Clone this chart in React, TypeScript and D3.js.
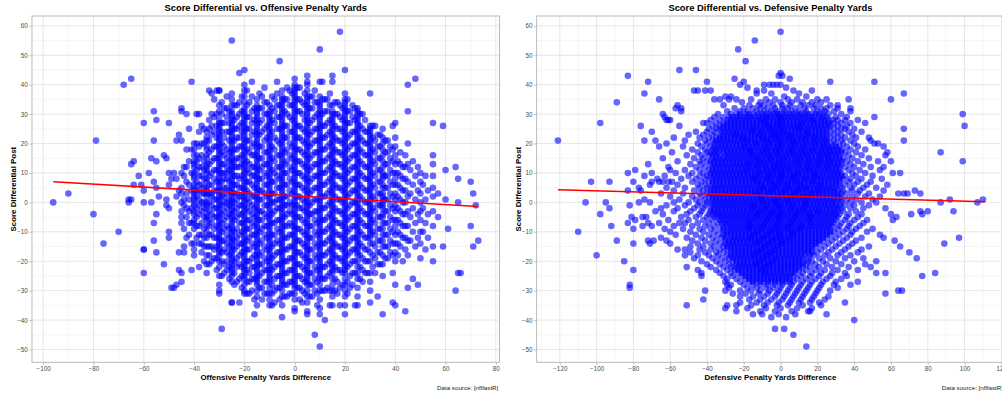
import React, { useRef, useEffect } from 'react';
import * as d3 from 'd3';

// offensive panel: [penalty yards difference, score differentials at that x]
const offensiveColumns: [number, number[]][] = [
  [-96, [0]], [-90, [3]], [-80, [-4]], [-79, [21]], [-76, [-14]], [-70, [-10]], [-68, [40]],
  [-66, [0, 1]], [-65, [42, 13, 1]], [-64, [14, 6]], [-62, [9]], [-61, [6]],
  [-60, [27, 4, 0, -16, -16, -24]], [-58, [10]], [-57, [15, 0]], [-56, [31, 21, 7, -7, -13]],
  [-55, [28, 14, 5, -4, -17]], [-54, [2]], [-52, [16, -21]], [-51, [15, 1, -1]],
  [-50, [27, 10, 6, -2, -10, -12]], [-49, [8, -29]], [-48, [10, -29]], [-47, [21, 8, 2, -28]],
  [-46, [23, 4, -17, -23]], [-45, [32, 31, 21, 10, 5, 3, 0, -3, -5, -7, -24, -27]],
  [-44, [1, -15, -17]], [-43, [30, 12, 7, -2]], [-42, [25, 6, -7]], [-41, [41, 18, -7, -23]],
  [-40, [20, 18, 16, 14, 13, 12, 10, 9, 8, 6, 5, 4, 3, 2, 1, 0, -1, -3, -4, -6, -7, -9, -14, -16, -18]],
  [-39, [30, 20, 11, 7, 2, -2, -5]], [-38, [30, 24, 15, 9, 4, -1, -8, -14, -22]],
  [-37, [20, 12, 6, 0, -3, -11, -14, -17]], [-36, [25, 14, 8, 3, -5, -15, -20]],
  [-35, [24, 22, 21, 19, 18, 16, 15, 13, 12, 11, 10, 8, 7, 5, 4, 3, 2, 0, -1, -2, -4, -5, -6, -8, -10, -12, -15, -18, -21, -24]],
  [-34, [38, 25, 17, 9, 3, -3, -11, -21]], [-33, [37, 23, 14, 6, -1, -7, -20]],
  [-32, [35, 29, 19, 11, 4, -2, -9, -16]], [-31, [38, 26, 15, 7, 1, -5, -12, -19]],
  [-30, [38, 38, 33, 31, 28, 27, 26, 25, 24, 23, 22, 21, 20, 19, 18, 17, 16, 15, 14, 13, 12, 11, 10, 9, 8, 7, 6, 5, 4, 3, 2, 1, 0, -1, -2, -3, -4, -5, -6, -7, -8, -9, -10, -11, -12, -13, -14, -15, -16, -17, -18, -20, -22, -25, -28, -30, -31]],
  [-29, [34, 27, 20, 13, 7, 2, -4, -10, -17, -25, -43]], [-28, [32, 22, 16, 10, 5, 0, -6, -13, -21]],
  [-27, [36, 29, 18, 12, 8, 3, -2, -8, -14, -20]], [-26, [31, 24, 17, 11, 4, -1, -9, -15, -22]],
  [-25, [55, 37, 35, 33, 31, 30, 29, 28, 27, 26, 25, 24, 23, 22, 21, 20, 19, 18, 17, 16, 15, 14, 13, 12, 11, 10, 9, 8, 7, 6, 5, 4, 3, 2, 1, 0, -1, -2, -3, -4, -5, -6, -7, -8, -9, -10, -11, -12, -13, -14, -15, -16, -17, -18, -19, -20, -21, -22, -23, -24, -25, -27, -34, -34]],
  [-24, [28, 21, 14, 9, 3, -3, -10, -16, -24]], [-23, [33, 25, 18, 12, 6, 1, -5, -12, -19, -27]],
  [-22, [44, 30, 22, 15, 8, 2, -4, -11, -18, -34]], [-21, [36, 27, 19, 13, 5, -1, -7, -14, -22]],
  [-20, [45, 40, 38, 36, 34, 32, 31, 30, 29, 28, 27, 26, 25, 24, 23, 22, 21, 20, 19, 18, 17, 16, 15, 14, 13, 12, 11, 10, 9, 8, 7, 6, 5, 4, 3, 2, 1, 0, -1, -2, -3, -4, -5, -6, -7, -8, -9, -10, -11, -12, -13, -14, -15, -16, -17, -18, -19, -20, -21, -22, -23, -24, -25, -26, -28, -30, -31]],
  [-19, [38, 29, 21, 14, 7, 1, -6, -13, -20, -27]], [-18, [34, 25, 17, 10, 3, -3, -9, -16, -24, -31]],
  [-17, [41, 31, 23, 16, 9, 2, -4, -11, -19, -26]], [-16, [28, 20, 12, 5, -2, -8, -15, -22, -38]],
  [-15, [35, 33, 32, 31, 30, 29, 28, 27, 26, 25, 24, 23, 22, 21, 20, 19, 18, 17, 16, 15, 14, 13, 12, 11, 10, 9, 8, 7, 6, 5, 4, 3, 2, 1, 0, -1, -2, -3, -4, -5, -6, -7, -8, -9, -10, -11, -12, -13, -14, -15, -16, -17, -18, -19, -20, -21, -22, -23, -24, -25, -26, -27, -28, -30, -32, -35]],
  [-14, [37, 27, 19, 11, 4, -3, -10, -18, -25]], [-13, [32, 24, 15, 8, 1, -6, -13, -21, -29]],
  [-12, [39, 30, 21, 13, 6, -1, -8, -15, -23, -31]], [-11, [34, 26, 17, 9, 2, -5, -12, -20, -27]],
  [-10, [33, 31, 30, 29, 28, 27, 26, 25, 24, 23, 22, 21, 20, 19, 18, 17, 16, 15, 14, 13, 12, 11, 10, 9, 8, 7, 6, 5, 4, 3, 2, 1, 0, -1, -2, -3, -4, -5, -6, -7, -8, -9, -10, -11, -12, -13, -14, -15, -16, -17, -18, -19, -20, -21, -22, -23, -24, -25, -26, -27, -29, -31, -33, -35]],
  [-9, [36, 28, 19, 11, 3, -4, -11, -19, -28, -35]], [-8, [31, 22, 14, 7, 0, -7, -14, -22, -30]],
  [-7, [41, 33, 25, 16, 9, 1, -6, -13, -21, -29]], [-6, [48, 29, 20, 12, 5, -2, -10, -17, -25, -33]],
  [-5, [38, 36, 35, 34, 33, 32, 31, 30, 29, 28, 27, 26, 25, 24, 23, 22, 21, 20, 19, 18, 17, 16, 15, 14, 13, 12, 11, 10, 9, 8, 7, 6, 5, 4, 3, 2, 1, 0, -1, -2, -3, -4, -5, -6, -7, -8, -9, -10, -11, -12, -13, -14, -15, -16, -17, -18, -19, -20, -21, -22, -23, -24, -25, -26, -27, -28, -30, -32, -35, -39]],
  [-4, [35, 26, 17, 10, 2, -5, -12, -20, -28]], [-3, [39, 30, 22, 14, 6, -1, -8, -16, -24, -32]],
  [-2, [33, 24, 16, 8, 0, -7, -15, -23, -31]], [-1, [37, 28, 19, 11, 3, -4, -11, -19, -27]],
  [0, [42, 40, 39, 38, 37, 36, 35, 34, 33, 32, 31, 30, 29, 28, 27, 26, 25, 24, 23, 22, 21, 20, 19, 18, 17, 16, 15, 14, 13, 12, 11, 10, 9, 8, 7, 6, 5, 4, 3, 2, 1, 0, -1, -2, -3, -4, -5, -6, -7, -8, -9, -10, -11, -12, -13, -14, -15, -16, -17, -18, -19, -20, -21, -22, -23, -24, -25, -26, -27, -28, -29, -31, -33, -36, -37]],
  [1, [35, 26, 18, 10, 2, -5, -13, -21, -29]], [2, [39, 31, 22, 14, 6, -2, -9, -17, -25, -33]],
  [3, [34, 25, 17, 9, 1, -6, -14, -22, -30]], [4, [37, 28, 20, 12, 4, -3, -11, -19, -27]],
  [5, [43, 41, 40, 38, 36, 35, 34, 33, 32, 31, 30, 29, 28, 27, 26, 25, 24, 23, 22, 21, 20, 19, 18, 17, 16, 15, 14, 13, 12, 11, 10, 9, 8, 7, 6, 5, 4, 3, 2, 1, 0, -1, -2, -3, -4, -5, -6, -7, -8, -9, -10, -11, -12, -13, -14, -15, -16, -17, -18, -19, -20, -21, -22, -23, -24, -25, -26, -27, -28, -30, -32, -34, -37, -38]],
  [6, [36, 27, 19, 11, 3, -4, -12, -20, -28]], [7, [32, 24, 16, 8, 0, -8, -16, -24, -32]],
  [8, [38, 29, 21, 13, 5, -3, -10, -18, -26, -45]], [9, [34, 25, 17, 9, 1, -7, -15, -23, -31]],
  [10, [52, 41, 36, 34, 33, 32, 31, 30, 29, 28, 27, 26, 25, 24, 23, 22, 21, 20, 19, 18, 17, 16, 15, 14, 13, 12, 11, 10, 9, 8, 7, 6, 5, 4, 3, 2, 1, 0, -1, -2, -3, -4, -5, -6, -7, -8, -9, -10, -11, -12, -13, -14, -15, -16, -17, -18, -19, -20, -21, -22, -23, -24, -25, -26, -28, -30, -33, -36, -38, -49]],
  [11, [41, 30, 22, 14, 6, -2, -10, -18, -26]], [12, [35, 26, 18, 10, 2, -6, -14, -22, -30, -40]],
  [13, [31, 23, 15, 7, -1, -9, -17, -25]], [14, [37, 28, 20, 12, 4, -4, -12, -20, -35]],
  [15, [43, 41, 33, 31, 30, 29, 28, 27, 26, 25, 24, 23, 22, 21, 20, 19, 18, 17, 16, 15, 14, 13, 12, 11, 10, 9, 8, 7, 6, 5, 4, 3, 2, 1, 0, -1, -2, -3, -4, -5, -6, -7, -8, -9, -10, -11, -12, -13, -14, -15, -16, -17, -18, -19, -20, -21, -22, -23, -24, -26, -28, -30, -32, -35]],
  [16, [30, 22, 14, 6, -2, -10, -18, -26]], [17, [34, 25, 17, 9, 1, -7, -15, -23, -31]],
  [18, [58, 29, 21, 13, 5, -3, -11, -19, -35]], [19, [32, 24, 16, 8, 0, -8, -16, -24]],
  [20, [45, 37, 35, 34, 33, 32, 31, 30, 29, 28, 27, 26, 25, 24, 23, 22, 21, 20, 19, 18, 17, 16, 15, 14, 13, 12, 11, 10, 9, 8, 7, 6, 5, 4, 3, 2, 1, 0, -1, -2, -3, -4, -5, -6, -7, -8, -9, -10, -11, -12, -13, -14, -15, -16, -17, -18, -19, -20, -21, -22, -23, -24, -26, -28, -30, -32, -35, -38]],
  [21, [31, 22, 14, 6, -2, -10, -18, -27]], [22, [27, 19, 11, 3, -5, -13, -21, -29]],
  [23, [33, 24, 16, 8, 0, -8, -16, -24]], [24, [28, 20, 12, 4, -4, -12, -20, -35]],
  [25, [32, 31, 30, 29, 28, 27, 26, 25, 24, 23, 22, 21, 20, 19, 18, 17, 16, 15, 14, 13, 12, 11, 10, 9, 8, 7, 6, 5, 4, 3, 2, 1, 0, -1, -2, -3, -4, -5, -6, -7, -8, -9, -10, -11, -12, -13, -14, -15, -16, -17, -18, -20, -22, -24, -26, -29, -32, -35]],
  [26, [26, 18, 10, 2, -6, -14, -22]], [27, [30, 21, 13, 5, -3, -11, -19, -27]],
  [28, [24, 16, 8, 0, -8, -16, -24]], [29, [20, 12, 4, -4, -12, -20]],
  [30, [37, 26, 25, 24, 23, 22, 21, 20, 19, 18, 17, 16, 15, 14, 13, 12, 11, 10, 9, 8, 7, 6, 5, 4, 3, 2, 1, 0, -1, -2, -3, -4, -5, -6, -7, -8, -9, -10, -11, -12, -14, -17, -20, -24, -27, -30, -34]],
  [31, [22, 14, 6, -2, -10, -18]], [32, [26, 17, 9, 1, -7, -15, -24]],
  [33, [19, 11, 3, -5, -13, -21, -32]], [34, [23, 15, 7, -1, -9, -17]],
  [35, [25, 22, 20, 18, 16, 14, 12, 10, 9, 8, 6, 5, 3, 2, 1, 0, -1, -2, -4, -5, -7, -9, -11, -13, -15, -18, -21, -25, -38]],
  [36, [17, 9, 1, -7, -15]], [37, [21, 13, 5, -3, -11, -19]], [38, [15, 7, -1, -9, -17]],
  [39, [26, 18, 10, 2, -6, -14, -24, -34]],
  [40, [27, 22, 19, 16, 13, 10, 8, 6, 3, 1, -1, -3, -6, -8, -11, -14, -17, -20, -28, -35]],
  [41, [14, 6, -2, -10, -18]], [42, [17, 9, 1, -7, -15]], [43, [12, 4, -4, -12, -20]],
  [44, [16, 8, 0, -8, -16, -37]], [45, [40, 31, 20, 13, 7, 2, -3, -8, -13, -18, -29]],
  [46, [11, 3, -5, -13]], [47, [14, 6, -2, -10, -26]], [48, [42, 9, 1, -7, -15]],
  [49, [12, 4, -4, -12, -28]], [50, [10, 7, 3, 0, -3, -6, -10, -14, -19]],
  [51, [6, -2, -10]], [52, [9, 1, -7, -16]], [53, [4, -4, -12]],
  [55, [27, 16, 13, 9, 5, 2, -3, -8, -15, -20]], [57, [3, -5]], [59, [26, -15]],
  [60, [11, 1]], [61, [-9]], [64, [12, -30]], [65, [8, 0, -24]], [66, [-24]],
  [70, [7, -8]], [71, [3, -15]], [72, [-1]], [73, [-13]],
];

// more offensive games that fill the gaps between the 5-yard columns
const offensiveColumnsMore: [number, number[]][] = [
  [-44, [12, 9, -1, -9]], [-43, [18, 3, -5, -12]], [-42, [14, 1, -3, -11]], [-41, [10, 4, -2, -14]],
  [-39, [16, 14, 4, -8, -12]], [-38, [19, 12, 6, 1, -4, -11]], [-37, [26, 16, 9, 3, -7]],
  [-36, [20, 11, 5, 0, -2, -9, -12]], [-34, [28, 21, 13, 6, 0, -6, -8, -15, -18]],
  [-33, [30, 26, 18, 10, 3, 2, -4, -11, -15]], [-32, [24, 15, 8, 1, -5, -12, -19]],
  [-31, [30, 22, 19, 11, 4, -2, -8, -15, -23]], [-29, [30, 24, 17, 10, 4, -1, -7, -13, -20]],
  [-28, [27, 19, 13, 8, 2, -3, -9, -16, -24]], [-27, [32, 24, 15, 10, 5, 0, -5, -11, -17, -23]],
  [-26, [27, 21, 14, 7, 1, -4, -12, -18, -26]], [-24, [33, 25, 18, 12, 6, 0, -6, -13, -20, -28]],
  [-23, [29, 22, 15, 9, 3, -2, -9, -15, -22]], [-22, [34, 26, 19, 12, 5, -1, -7, -14, -21, -26]],
  [-21, [31, 24, 16, 9, 2, -4, -10, -17, -25, -29]], [-19, [33, 25, 18, 11, 4, -2, -9, -16, -23, -31]],
  [-18, [29, 21, 13, 7, 0, -6, -12, -20, -27]], [-17, [36, 27, 19, 12, 6, -1, -7, -14, -22, -30]],
  [-16, [32, 24, 16, 9, 2, -5, -11, -18, -26, -33]], [-14, [32, 23, 15, 8, 1, -6, -14, -21, -29]],
  [-13, [36, 28, 19, 12, 4, -3, -9, -17, -24, -33]], [-12, [34, 25, 17, 10, 3, -4, -11, -19, -27]],
  [-11, [30, 22, 13, 6, -1, -8, -16, -23, -31]], [-9, [32, 24, 15, 7, 0, -7, -15, -23, -31]],
  [-8, [35, 27, 18, 10, 3, -3, -11, -18, -26, -34]], [-7, [37, 29, 21, 12, 5, -2, -9, -17, -25]],
  [-6, [33, 25, 16, 8, 1, -6, -14, -21, -29]], [-4, [31, 22, 13, 6, -1, -8, -16, -24, -32]],
  [-3, [35, 26, 18, 10, 2, -4, -12, -20, -28]], [-2, [38, 29, 20, 12, 4, -3, -11, -19, -27]],
  [-1, [33, 24, 15, 7, -1, -8, -15, -23, -31]], [1, [39, 31, 22, 14, 6, -1, -9, -17, -25]],
  [2, [35, 26, 18, 10, 2, -5, -13, -21, -29]], [3, [30, 21, 13, 5, -2, -10, -18, -26, -34]],
  [4, [33, 24, 16, 8, 0, -7, -15, -23, -31]], [6, [32, 23, 15, 7, -1, -8, -16, -24, -32]],
  [7, [36, 28, 20, 12, 4, -4, -12, -20, -28]], [8, [34, 25, 17, 9, 1, -6, -14, -22, -30]],
  [9, [30, 21, 13, 5, -3, -11, -19, -27, -35]], [11, [35, 26, 18, 10, 2, -6, -14, -22, -30]],
  [12, [31, 22, 14, 6, -2, -10, -18, -26]], [13, [35, 27, 19, 11, 3, -5, -13, -21, -29]],
  [14, [33, 24, 16, 8, 0, -8, -16, -24, -30]], [16, [34, 26, 18, 10, 2, -6, -14, -22, -30]],
  [17, [30, 21, 13, 5, -3, -11, -19, -27]], [18, [33, 25, 17, 9, 1, -7, -15, -23, -29]],
  [19, [28, 20, 12, 4, -4, -12, -20, -28]], [21, [35, 27, 18, 10, 2, -6, -14, -22, -31]],
  [22, [31, 23, 15, 7, -1, -9, -17, -25]], [23, [29, 20, 12, 4, -4, -12, -20, -28]],
  [24, [32, 24, 16, 8, 0, -8, -16, -24]], [26, [30, 22, 14, 6, -2, -10, -18, -26]],
  [27, [25, 17, 9, 1, -7, -15, -23]], [28, [28, 20, 12, 4, -4, -12, -20]],
  [29, [24, 16, 8, 0, -8, -16, -24]], [31, [26, 18, 10, 2, -6, -14, -22]],
  [32, [21, 13, 5, -3, -11, -19]], [33, [23, 15, 7, -1, -9, -17]], [34, [19, 11, 3, -5, -13, -21]],
  [36, [21, 13, 5, -3, -11, -19]], [37, [17, 9, 1, -7, -15]], [38, [19, 11, 3, -5, -13]],
  [39, [14, 6, -2, -10, -18]], [41, [10, 2, -6, -14]], [42, [13, 5, -3, -11]],
  [43, [8, 0, -8]], [44, [12, 4, -4, -12]],
];

// defensive panel: [score differential, penalty yards differences in that row]
const defensiveRows: [number, number[]][] = [
  [58, [0]], [55, [-14]], [52, [-23]], [48, [-19]], [45, [-55, -46]], [44, [0]],
  [43, [-83, -1, 1]], [42, [-25, 5]], [41, [-72, -40, -20, 27, 51]],
  [40, [-22, -9, -6, -4, -2, 0]], [39, [-18, 3]],
  [38, [-47, -45, -41, -38, -13, -9, 7, 17]], [37, [-74, -13, -5, 10, 67]], [36, [-30, -27, 2, 14]],
  [35, [-66, -36, -33, -28, -24, -16, -8, -3, 4, 9, 20, 25, 37, 60]],
  [34, [-89, -21, -11, -6, 0, 6, 12, 17, 22]],
  [33, [-56, -31, -17, -12, -9, -4, 1, 5, 11, 15, 19, 27, 31]],
  [32, [-57, -54, -25, -20, -15, -11, -7, -3, 1, 4, 8, 13, 18, 22, 25, 31, 38]],
  [31, [-54, -29, -22, -18, -13, -9, -5, -2, 2, 6, 10, 14, 20, 24, 29, 38]],
  [30, [-64, -34, -27, -24, -19, -15, -12, -8, -4, -1, 3, 7, 11, 15, 19, 23, 26, 33, 99]],
  [29, [-63, -36, -31, -26, -22, -18, -14, -10, -7, -3, 0, 4, 8, 12, 16, 21, 25, 30, 36, 51]],
  [28, [-62, -61, -60, -38, -33, -29, -25, -21, -17, -13, -10, -6, -2, 1, 5, 9, 13, 17, 20, 24, 28, 31, 35, 42]],
  [27, [-98, -42, -40, -35, -31, -27, -23, -19, -15, -11, -8, -4, -1, 3, 7, 11, 14, 18, 22, 26, 29, 33, 38, 46]],
  [26, [-76, -55, -37, -33, -29, -25, -21, -17, -13, -9, -6, -2, 1, 5, 9, 12, 16, 20, 24, 27, 31, 36, 100]],
  [25, [-39, -35, -31, -27, -23, -19, -15, -12, -8, -5, -1, 2, 6, 10, 13, 17, 21, 25, 29, 33, 35, 40, 67]],
  [24, [-70, -46, -40, -36, -32, -28, -24, -20, -16, -13, -10, -6, -3, 1, 4, 8, 12, 15, 19, 23, 27, 31, 37, 44]],
  [23, [-50, -42, -37, -33, -29, -25, -22, -18, -14, -11, -7, -4, -1, 3, 6, 10, 14, 17, 21, 25, 29, 33, 39]],
  [22, [-58, -44, -39, -35, -31, -27, -23, -20, -16, -12, -9, -5, -2, 2, 5, 9, 12, 16, 19, 23, 27, 31, 35, 41, 48]],
  [21, [-121, -74, -68, -52, -41, -37, -33, -29, -25, -21, -18, -14, -10, -7, -3, 0, 4, 7, 11, 14, 18, 22, 25, 29, 33, 38, 49, 67]],
  [20, [-62, -45, -40, -36, -32, -28, -24, -20, -16, -13, -9, -6, -2, 1, 5, 8, 12, 16, 19, 23, 27, 30, 34, 40, 51, 53]],
  [19, [-66, -53, -43, -38, -34, -30, -26, -22, -19, -15, -11, -8, -4, -1, 3, 6, 10, 13, 17, 21, 24, 28, 32, 36, 42, 56]],
  [18, [-48, -41, -37, -33, -29, -25, -21, -17, -14, -10, -7, -3, 0, 4, 7, 11, 15, 18, 22, 26, 29, 33, 38, 46]],
  [17, [-59, -45, -40, -36, -31, -27, -23, -19, -16, -12, -9, -5, -2, 2, 5, 9, 12, 16, 20, 23, 27, 31, 35, 41, 58, 87]],
  [16, [-51, -43, -39, -35, -30, -26, -22, -18, -15, -11, -7, -4, -1, 3, 7, 10, 14, 17, 21, 25, 28, 32, 37, 44, 57]],
  [15, [-64, -47, -42, -37, -33, -29, -25, -21, -17, -13, -10, -6, -3, 1, 4, 8, 11, 15, 19, 22, 26, 30, 34, 39, 48]],
  [14, [-56, -44, -40, -36, -32, -28, -24, -20, -16, -12, -9, -5, -1, 2, 6, 9, 13, 16, 20, 24, 27, 31, 36, 42, 53, 60, 99]],
  [13, [-72, -49, -43, -38, -34, -30, -26, -22, -18, -15, -11, -8, -4, -1, 3, 7, 10, 14, 18, 21, 25, 29, 33, 38, 45]],
  [12, [-61, -46, -41, -37, -33, -29, -25, -21, -17, -13, -10, -6, -3, 1, 4, 8, 12, 15, 19, 23, 26, 30, 35, 40, 49, 56]],
  [11, [-79, -60, -52, -44, -39, -35, -31, -27, -23, -19, -16, -12, -8, -5, -2, 2, 5, 9, 13, 16, 20, 24, 28, 32, 37, 43, 54]],
  [10, [-83, -70, -57, -48, -42, -38, -34, -30, -26, -22, -18, -14, -11, -7, -4, 0, 3, 7, 10, 14, 18, 21, 25, 29, 33, 39, 46, 61, 65]],
  [9, [-74, -63, -50, -44, -40, -36, -32, -28, -24, -20, -16, -13, -9, -6, -2, 1, 5, 8, 12, 16, 19, 23, 27, 31, 35, 41, 50]],
  [8, [-67, -54, -46, -41, -37, -33, -29, -25, -21, -17, -14, -10, -7, -3, 0, 4, 7, 11, 14, 18, 22, 26, 30, 34, 38, 44, 55]],
  [7, [-103, -93, -80, -70, -66, -64, -61, -59, -48, -43, -39, -35, -31, -27, -23, -19, -15, -12, -8, -5, -1, 2, 6, 9, 13, 17, 20, 24, 28, 32, 37, 42, 49]],
  [6, [-71, -56, -45, -41, -37, -33, -29, -25, -21, -17, -13, -10, -6, -3, 1, 4, 8, 11, 15, 19, 22, 26, 30, 35, 40, 47, 58]],
  [5, [-77, -62, -52, -44, -40, -36, -32, -28, -24, -20, -16, -12, -9, -5, -2, 2, 5, 9, 13, 16, 20, 24, 28, 33, 38, 45, 52]],
  [4, [-83, -76, -58, -47, -42, -38, -34, -30, -26, -22, -18, -14, -11, -7, -4, 0, 3, 7, 10, 14, 18, 21, 25, 29, 34, 39, 43, 56, 73]],
  [3, [-65, -53, -44, -40, -36, -32, -28, -24, -20, -16, -13, -9, -6, -2, 1, 5, 8, 12, 16, 19, 23, 27, 31, 36, 42, 48, 64, 67, 69, 76]],
  [2, [-60, -48, -43, -39, -35, -31, -27, -23, -19, -15, -11, -8, -4, -1, 3, 6, 10, 13, 17, 21, 25, 29, 33, 39, 46, 54]],
  [1, [-74, -55, -46, -41, -37, -33, -29, -25, -21, -17, -13, -10, -6, -3, 1, 4, 8, 12, 15, 19, 23, 27, 31, 36, 41, 50, 92, 110]],
  [0, [-106, -95, -77, -71, -58, -50, -44, -40, -36, -32, -28, -24, -20, -16, -12, -9, -5, -2, 2, 5, 9, 13, 16, 20, 24, 28, 33, 38, 44, 52, 87, 107]],
  [-1, [-82, -62, -52, -45, -41, -37, -33, -29, -25, -21, -17, -14, -10, -7, -3, 0, 4, 7, 11, 14, 18, 22, 26, 30, 35, 40, 48]],
  [-2, [-93, -65, -56, -47, -42, -38, -34, -30, -26, -22, -18, -15, -11, -8, -4, -1, 3, 6, 10, 13, 17, 21, 25, 29, 33, 38, 45, 57]],
  [-3, [-68, -58, -49, -43, -38, -34, -30, -26, -22, -18, -14, -11, -7, -4, 0, 3, 7, 10, 14, 18, 21, 25, 29, 34, 41, 76, 80, 94]],
  [-4, [-98, -64, -51, -44, -39, -35, -31, -27, -23, -19, -15, -12, -8, -5, -1, 2, 6, 9, 13, 16, 20, 24, 28, 32, 37, 44, 60, 71, 77]],
  [-5, [-81, -75, -73, -54, -46, -40, -36, -32, -28, -24, -20, -16, -13, -9, -6, -2, 1, 5, 8, 12, 16, 19, 23, 27, 31, 36, 42, 63]],
  [-6, [-79, -61, -50, -42, -37, -33, -29, -25, -21, -17, -14, -10, -7, -3, 0, 4, 7, 11, 15, 18, 22, 26, 30, 35, 40, 47, 61]],
  [-7, [-83, -72, -66, -55, -52, -45, -39, -34, -30, -26, -22, -18, -15, -11, -8, -4, -1, 3, 6, 10, 14, 17, 21, 25, 29, 33, 38, 45]],
  [-8, [-92, -75, -70, -58, -48, -41, -36, -31, -27, -23, -19, -16, -12, -9, -5, -2, 2, 5, 9, 12, 16, 20, 24, 28, 32, 37, 43]],
  [-9, [-80, -63, -53, -44, -38, -33, -28, -24, -20, -17, -13, -10, -6, -3, 1, 4, 8, 11, 15, 19, 23, 27, 31, 36, 41, 50]],
  [-10, [-110, -60, -49, -42, -36, -31, -27, -23, -19, -15, -12, -8, -5, -1, 2, 6, 9, 13, 17, 21, 25, 29, 34, 39, 47]],
  [-11, [-57, -46, -39, -34, -29, -25, -21, -17, -14, -10, -7, -3, 0, 4, 7, 11, 15, 19, 23, 27, 32, 38, 54]],
  [-12, [-65, -51, -43, -37, -32, -27, -23, -19, -16, -12, -9, -5, -2, 2, 5, 9, 13, 17, 21, 25, 30, 36, 44, 56, 97]],
  [-13, [-89, -72, -69, -62, -48, -41, -35, -30, -26, -22, -18, -14, -11, -7, -4, 0, 3, 7, 11, 15, 19, 23, 28, 34, 41, 62]],
  [-14, [-80, -71, -60, -45, -38, -33, -28, -24, -20, -16, -13, -9, -6, -2, 1, 5, 9, 13, 17, 21, 26, 32, 39, 89]],
  [-15, [-49, -42, -36, -31, -27, -23, -19, -15, -11, -8, -4, -1, 3, 7, 11, 15, 19, 24, 30, 37, 48, 65]],
  [-16, [-56, -52, -44, -38, -33, -29, -25, -21, -17, -13, -10, -6, -3, 1, 5, 9, 13, 17, 22, 28, 35, 44]],
  [-17, [-49, -41, -35, -31, -27, -23, -19, -15, -12, -8, -5, -1, 3, 7, 11, 15, 20, 26, 33, 42, 70]],
  [-18, [-100, -52, -45, -39, -34, -29, -25, -21, -17, -14, -10, -7, -3, 1, 5, 9, 13, 18, 24, 31, 38]],
  [-19, [-47, -37, -32, -28, -24, -20, -16, -12, -9, -5, -2, 2, 6, 10, 15, 21, 27, 35, 45, 74]],
  [-20, [-85, -43, -35, -30, -26, -22, -18, -14, -11, -7, -4, 0, 4, 8, 12, 17, 23, 30, 40, 52]],
  [-21, [-40, -33, -28, -24, -20, -16, -13, -9, -6, -2, 2, 6, 10, 14, 19, 25, 33, 46]],
  [-22, [-51, -38, -31, -27, -23, -19, -15, -11, -8, -4, 0, 4, 8, 12, 16, 21, 28, 37, 49]],
  [-23, [-80, -45, -35, -29, -25, -21, -17, -13, -10, -6, -2, 2, 6, 10, 14, 19, 24, 31, 42]],
  [-24, [-43, -33, -27, -23, -19, -15, -11, -8, -4, 0, 4, 8, 12, 17, 22, 28, 35, 52, 57, 84]],
  [-25, [-43, -31, -26, -21, -17, -13, -9, -5, -1, 3, 7, 11, 16, 21, 27, 36, 77]],
  [-26, [-29, -24, -19, -15, -11, -7, -3, 1, 5, 9, 14, 19, 25, 33]],
  [-27, [-30, -22, -17, -13, -9, -5, -1, 3, 7, 12, 17, 23, 30, 42]],
  [-28, [-82, -29, -27, -20, -15, -11, -7, -3, 1, 6, 11, 16, 22, 29, 38]],
  [-29, [-82, -28, -18, -13, -8, -4, 0, 5, 10, 15, 21, 31]],
  [-30, [-41, -30, -22, -16, -11, -6, -1, 4, 9, 14, 20, 27, 64, 66]],
  [-31, [-26, -19, -12, -7, -2, 3, 8, 13, 19, 57]],
  [-32, [-22, -15, -9, -3, 2, 7, 12, 18, 26]],
  [-33, [-42, -17, -11, -5, 1, 6, 11, 17, 24]],
  [-34, [-22, -13, -7, -1, 5, 10, 16, 21, 35]],
  [-35, [-51, -29, -24, -16, -9, -2, 4, 12, 22]],
  [-36, [-30, -18, -8, 0, 9, 17]], [-37, [-24, -11, -3, 6, 15, 16]],
  [-38, [-15, -10, -1, 8, 25]], [-39, [-5, 3]], [-40, [40]], [-43, [-3, 2]],
  [-45, [7]], [-49, [14]],
];

// more defensive games packed into the dense middle
const defensiveRowsMore: [number, number[]][] = [
  [30, [-22, -17, -10, -6, -2, 1, 5, 9, 13, 17, 21]],
  [29, [-28, -24, -20, -16, -12, -8, -5, -1, 2, 6, 10, 14, 18, 23]],
  [28, [-27, -23, -19, -15, -11, -8, -4, 0, 3, 7, 11, 15, 18, 22, 26]],
  [27, [-29, -25, -21, -17, -13, -9, -6, -2, 1, 5, 9, 12, 16, 20, 24]],
  [26, [-31, -27, -23, -19, -15, -11, -7, -4, 0, 3, 7, 10, 14, 18, 22, 26]],
  [25, [-33, -29, -25, -21, -17, -14, -10, -6, -3, 0, 4, 8, 11, 15, 19, 23]],
  [24, [-30, -26, -22, -18, -15, -11, -8, -4, -1, 2, 6, 10, 14, 17, 21, 25]],
  [23, [-31, -27, -24, -20, -16, -12, -9, -5, -2, 1, 5, 8, 12, 15, 19, 23]],
  [22, [-33, -29, -25, -21, -18, -14, -10, -7, -3, 0, 4, 7, 11, 14, 18, 21, 25]],
  [21, [-35, -31, -27, -23, -19, -16, -12, -8, -5, -1, 2, 6, 9, 13, 16, 20, 24]],
  [20, [-34, -30, -26, -22, -18, -14, -11, -7, -4, 0, 3, 7, 10, 14, 18, 21, 25]],
  [19, [-36, -32, -28, -24, -20, -17, -13, -9, -6, -2, 1, 5, 8, 12, 15, 19, 23, 26, 30]],
  [18, [-35, -31, -27, -23, -19, -16, -12, -8, -5, -1, 2, 6, 9, 13, 17, 20, 24, 27, 31]],
  [17, [-38, -34, -29, -25, -21, -17, -14, -10, -7, -3, 0, 4, 7, 11, 14, 18, 22, 25, 29, 33]],
  [16, [-37, -33, -28, -24, -20, -16, -13, -9, -6, -2, 1, 5, 8, 12, 15, 19, 23, 26, 30]],
  [15, [-35, -31, -27, -23, -19, -15, -12, -8, -5, -1, 2, 6, 10, 13, 17, 21, 24, 28, 32]],
  [14, [-38, -34, -30, -26, -22, -18, -14, -11, -7, -3, 0, 4, 8, 11, 15, 18, 22, 26, 29, 33]],
  [13, [-36, -32, -28, -24, -20, -17, -13, -9, -6, -2, 1, 5, 9, 12, 16, 20, 23, 27, 31]],
  [12, [-35, -31, -27, -23, -19, -15, -12, -8, -4, -1, 2, 6, 10, 14, 17, 21, 25, 28, 32]],
  [11, [-37, -33, -29, -25, -21, -18, -14, -10, -7, -3, 0, 4, 7, 11, 15, 18, 22, 26, 30]],
  [10, [-36, -32, -28, -24, -20, -16, -12, -9, -5, -2, 1, 5, 9, 12, 16, 19, 23, 27, 31]],
  [9, [-38, -34, -30, -26, -22, -18, -14, -11, -7, -4, 0, 3, 7, 10, 14, 18, 21, 25, 29, 33]],
  [8, [-35, -31, -27, -23, -19, -15, -12, -8, -5, -1, 2, 6, 9, 13, 16, 20, 24, 28, 32]],
  [7, [-37, -33, -29, -25, -21, -17, -13, -10, -6, -3, 0, 4, 8, 11, 15, 18, 22, 26, 30]],
  [6, [-35, -31, -27, -23, -19, -15, -11, -8, -4, -1, 3, 6, 10, 13, 17, 21, 24, 28, 32]],
  [5, [-38, -34, -30, -26, -22, -18, -14, -10, -7, -3, 0, 4, 7, 11, 14, 18, 22, 26, 30]],
  [4, [-36, -32, -28, -24, -20, -16, -12, -9, -5, -2, 2, 5, 9, 12, 16, 20, 23, 27, 31]],
  [3, [-38, -34, -30, -26, -22, -18, -14, -11, -7, -4, 0, 3, 7, 10, 14, 17, 21, 25, 29, 33]],
  [2, [-37, -33, -29, -25, -21, -17, -13, -10, -6, -2, 1, 5, 8, 12, 15, 19, 23, 27, 31]],
  [1, [-35, -31, -27, -23, -19, -15, -11, -8, -4, -1, 3, 6, 10, 14, 17, 21, 25, 29, 33]],
  [0, [-38, -34, -30, -26, -22, -18, -14, -10, -7, -3, 0, 4, 7, 11, 14, 18, 22, 26, 30]],
  [-1, [-35, -31, -27, -23, -19, -15, -12, -8, -5, -1, 2, 6, 9, 13, 16, 20, 24, 28, 32]],
  [-2, [-36, -32, -28, -24, -20, -16, -13, -9, -6, -2, 1, 5, 8, 12, 15, 19, 23, 27, 31]],
  [-3, [-36, -32, -28, -24, -20, -16, -12, -9, -5, -2, 1, 5, 9, 12, 16, 20, 23, 27, 31]],
  [-4, [-37, -33, -29, -25, -21, -17, -13, -10, -6, -3, 0, 4, 8, 11, 15, 18, 22, 26, 30]],
  [-5, [-34, -30, -26, -22, -18, -14, -11, -7, -4, -1, 3, 7, 10, 14, 17, 21, 25, 29]],
  [-6, [-31, -27, -23, -19, -16, -12, -8, -5, -1, 2, 6, 9, 13, 16, 20, 24, 28]],
  [-7, [-32, -28, -24, -20, -17, -13, -9, -6, -2, 1, 5, 8, 12, 16, 19, 23, 27]],
  [-8, [-29, -25, -21, -17, -14, -10, -7, -3, 0, 4, 7, 11, 14, 18, 22, 26]],
  [-9, [-31, -26, -22, -18, -15, -11, -8, -4, -1, 3, 6, 10, 13, 17, 21, 25]],
  [-10, [-29, -25, -21, -17, -13, -10, -6, -3, 0, 4, 7, 11, 15, 19, 23, 27]],
  [-11, [-31, -27, -23, -19, -15, -12, -8, -5, -1, 2, 6, 9, 13, 17, 21, 25]],
  [-12, [-30, -25, -21, -17, -14, -10, -7, -3, 0, 4, 7, 11, 15, 19, 23]],
  [-13, [-28, -24, -20, -16, -12, -9, -5, -2, 1, 5, 9, 13, 17, 21]],
  [-14, [-30, -26, -22, -18, -14, -11, -7, -4, 0, 3, 7, 11, 15, 19]],
  [-15, [-29, -25, -21, -17, -13, -9, -6, -2, 1, 5, 9, 13, 17]],
  [-16, [-27, -23, -19, -15, -11, -8, -4, -1, 3, 7, 11, 15]],
  [-17, [-25, -21, -17, -13, -10, -6, -3, 1, 5, 9, 13, 17]],
  [-18, [-27, -23, -19, -15, -12, -8, -5, -1, 3, 7, 11, 16]],
  [-19, [-26, -22, -18, -14, -10, -7, -3, 0, 4, 8, 12]],
  [-20, [-24, -20, -16, -12, -9, -5, -2, 2, 6, 10, 15]],
  [-21, [-22, -18, -14, -11, -7, -4, 0, 4, 8, 12]],
  [-22, [-25, -21, -17, -13, -9, -6, -2, 2, 6, 10]],
  [-23, [-23, -19, -15, -11, -8, -4, 0, 4, 8]],
  [-24, [-21, -17, -13, -9, -6, -2, 2, 6]],
  [-25, [-19, -15, -11, -7, -3, 1, 5]],
  [-26, [-17, -13, -9, -5, -1, 3]],
  [-27, [-15, -11, -7, -3, 1, 5]],
];

// fitted lines: [x, y] at both ends
const offensiveTrend: [number, number][] = [[-96, 7.0], [73, -1.4]];
const defensiveTrend: [number, number][] = [[-121, 4.3], [111, 0.2]];

const offensiveXTicks = [-100, -80, -60, -40, -20, 0, 20, 40, 60, 80];
const defensiveXTicks = [-120, -100, -80, -60, -40, -20, 0, 20, 40, 60, 80, 100, 120];
const yTicks = [-50, -40, -30, -20, -10, 0, 10, 20, 30, 40, 50, 60];

const fromColumns = (cols: [number, number[]][]) =>
  cols.flatMap(([x, ys]) => ys.map((y) => [x, y] as [number, number]));
const fromRows = (rows: [number, number[]][]) =>
  rows.flatMap(([y, xs]) => xs.map((x) => [x, y] as [number, number]));

const offensivePoints = [...fromColumns(offensiveColumns), ...fromColumns(offensiveColumnsMore)];
const defensivePoints = [...fromRows(defensiveRows), ...fromRows(defensiveRowsMore)];

const FONT = 'Liberation Sans, Arial, Helvetica, sans-serif';

function expand(ext: [number, number]): [number, number] {
  const pad = (ext[1] - ext[0]) * 0.05;
  return [ext[0] - pad, ext[1] + pad];
}

function drawPanel(root: any, opts: any) {
  const { left, points, trend, xTicks, title, xTitle } = opts;
  const plotL = 32, plotT = 16, plotW = 467.5, plotH = 346.3;

  const g = root.append('g').attr('transform', `translate(${left},0)`);

  const x = d3.scaleLinear()
    .domain(expand(d3.extent(points, (d: any) => d[0]) as [number, number]))
    .range([plotL, plotL + plotW]);
  const y = d3.scaleLinear()
    .domain(expand(d3.extent(points, (d: any) => d[1]) as [number, number]))
    .range([plotT + plotH, plotT]);

  const [x0, x1] = x.domain();
  const [y0, y1] = y.domain();
  const step = xTicks[1] - xTicks[0];
  const xMinor = d3.range(xTicks[0] - step * 1.5, x1, step).filter((v) => v > x0 && v < x1);
  const yMinor = d3.range(-55, y1, 10).filter((v) => v > y0 && v < y1);

  // grid
  const grid = g.append('g');
  grid.selectAll('line.vmin').data(xMinor).join('line')
    .attr('x1', (d) => x(d)).attr('x2', (d) => x(d))
    .attr('y1', plotT).attr('y2', plotT + plotH)
    .attr('stroke', '#f0f0f0').attr('stroke-width', 0.6);
  grid.selectAll('line.hmin').data(yMinor).join('line')
    .attr('y1', (d) => y(d)).attr('y2', (d) => y(d))
    .attr('x1', plotL).attr('x2', plotL + plotW)
    .attr('stroke', '#f0f0f0').attr('stroke-width', 0.6);
  grid.selectAll('line.vmaj').data(xTicks).join('line')
    .attr('x1', (d) => x(d)).attr('x2', (d) => x(d))
    .attr('y1', plotT).attr('y2', plotT + plotH)
    .attr('stroke', '#e3e3e3').attr('stroke-width', 0.9);
  grid.selectAll('line.hmaj').data(yTicks).join('line')
    .attr('y1', (d) => y(d)).attr('y2', (d) => y(d))
    .attr('x1', plotL).attr('x2', plotL + plotW)
    .attr('stroke', '#e3e3e3').attr('stroke-width', 0.9);

  // points
  g.append('g').selectAll('circle').data(points).join('circle')
    .attr('cx', (d: any) => x(d[0]))
    .attr('cy', (d: any) => y(d[1]))
    .attr('r', 3.3)
    .attr('fill', '#0000ff')
    .attr('fill-opacity', 0.6);

  // linear fit
  g.append('path')
    .datum(trend)
    .attr('d', d3.line().x((d: any) => x(d[0])).y((d: any) => y(d[1])))
    .attr('fill', 'none')
    .attr('stroke', '#ff0000')
    .attr('stroke-width', 1.6);

  g.append('rect')
    .attr('x', plotL).attr('y', plotT).attr('width', plotW).attr('height', plotH)
    .attr('fill', 'none').attr('stroke', '#b3b3b3').attr('stroke-width', 0.9);

  // axes
  const xAxis = g.append('g')
    .attr('transform', `translate(0,${plotT + plotH})`)
    .call(d3.axisBottom(x).tickValues(xTicks).tickSize(2.7).tickPadding(1.5));
  const yAxis = g.append('g')
    .attr('transform', `translate(${plotL},0)`)
    .call(d3.axisLeft(y).tickValues(yTicks).tickSize(2.7).tickPadding(1.5));
  [xAxis, yAxis].forEach((a) => {
    a.select('.domain').remove();
    a.selectAll('line').attr('stroke', '#b3b3b3').attr('stroke-width', 0.8);
    a.selectAll('text').attr('fill', '#4d4d4d').style('font-size', '6.3px').style('font-family', FONT);
  });

  g.append('text')
    .attr('x', plotL + plotW / 2).attr('y', 10.7)
    .attr('text-anchor', 'middle')
    .style('font-family', FONT).style('font-weight', 'bold').style('font-size', '9.4px')
    .attr('fill', '#000')
    .text(title);

  g.append('text')
    .attr('x', plotL + plotW / 2).attr('y', 380)
    .attr('text-anchor', 'middle')
    .style('font-family', FONT).style('font-weight', 'bold').style('font-size', '7.9px')
    .attr('fill', '#000')
    .text(xTitle);

  g.append('text')
    .attr('transform', `translate(16,${plotT + plotH / 2}) rotate(-90)`)
    .attr('text-anchor', 'middle')
    .style('font-family', FONT).style('font-weight', 'bold').style('font-size', '7.9px')
    .attr('fill', '#000')
    .text('Score Differential Post');

  g.append('text')
    .attr('x', 498.3).attr('y', 390)
    .attr('text-anchor', 'end')
    .style('font-family', FONT).style('font-size', '6.2px')
    .attr('fill', '#1a1a1a')
    .text('Data source: [nflfastR]');
}

const ScoreCharts = () => {
  const ref = useRef<SVGSVGElement>(null);

  useEffect(() => {
    const svg = d3.select(ref.current);
    svg.selectAll('*').remove();
    svg.append('rect').attr('width', 1002).attr('height', 397).attr('fill', '#fff');

    drawPanel(svg, {
      left: 0,
      points: offensivePoints,
      trend: offensiveTrend,
      xTicks: offensiveXTicks,
      title: 'Score Differential vs. Offensive Penalty Yards',
      xTitle: 'Offensive Penalty Yards Difference',
    });
    drawPanel(svg, {
      left: 504.7,
      points: defensivePoints,
      trend: defensiveTrend,
      xTicks: defensiveXTicks,
      title: 'Score Differential vs. Defensive Penalty Yards',
      xTitle: 'Defensive Penalty Yards Difference',
    });
  }, []);

  return (
    <svg ref={ref} width={1002} height={397}
      style={{ position: 'absolute', left: 0, top: 0, display: 'block' }} />
  );
};

export default function App() {
  return <ScoreCharts />;
}
